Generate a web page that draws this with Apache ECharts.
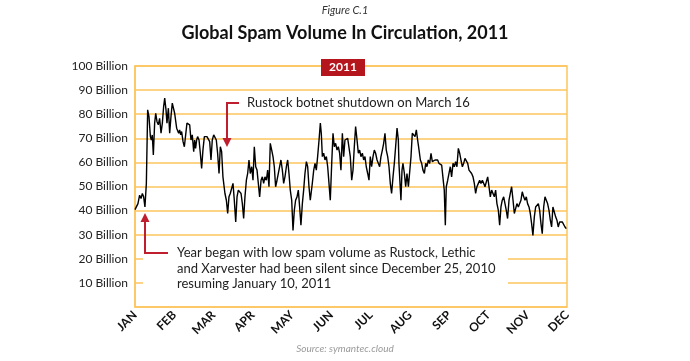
<!DOCTYPE html>
<html><head><meta charset="utf-8">
<script src="https://cdn.jsdelivr.net/npm/echarts@6/dist/echarts.min.js"></script>
<style>html,body{margin:0;padding:0;background:#fff}#c{width:690px;height:361px}</style>
</head><body><div id="c"></div>
<script>
const months = ['JAN','FEB','MAR','APR','MAY','JUN','JUL','AUG','SEP','OCT','NOV','DEC'];
const yMax = 100, yStep = 10;
// day of year (0..365) and spam volume (billions)
const days = [0.0,1.1,2.5,3.9,5.1,6.2,7.3,8.4,9.6,10.7,11.8,13.0,13.8,14.6,15.5,16.6,17.5,18.6,19.7,20.8,22.0,23.1,24.2,25.1,26.2,27.0,28.2,29.3,30.4,31.5,32.4,33.5,34.4,35.2,36.0,36.9,37.7,38.6,39.4,40.6,41.7,42.8,43.9,45.1,46.2,47.3,48.4,49.6,50.4,51.2,52.1,52.9,54.1,55.2,56.3,57.4,58.6,59.7,60.8,61.9,63.1,64.2,65.3,66.5,67.6,68.7,69.8,71.0,72.1,73.2,74.3,
76.0,77.2,78.3,79.4,80.5,81.7,82.8,83.9,85.1,86.2,87.3,88.4,89.6,90.7,91.8,92.9,94.1,95.2,96.3,97.4,98.6,99.7,100.8,102.0,103.1,104.2,105.3,106.5,107.6,108.7,109.8,111.0,112.1,113.2,114.3,115.5,116.6,117.7,118.8,120.0,121.1,122.2,123.3,124.5,125.6,126.7,127.9,129.0,130.1,131.2,132.4,133.5,134.6,135.7,136.9,138.0,139.1,140.2,141.4,142.5,143.6,144.8,145.9,147.0,148.1,
149.8,151.0,152.1,153.2,154.3,155.5,156.6,157.4,158.3,159.4,160.5,161.7,162.8,163.9,165.0,166.2,167.3,168.4,169.5,170.7,171.8,172.9,174.0,175.2,176.3,177.4,178.5,179.7,180.8,181.9,183.1,184.2,185.3,186.4,187.6,188.7,189.8,190.9,192.1,193.2,194.3,195.4,196.6,197.7,198.8,199.9,201.1,202.2,203.3,204.5,205.6,206.7,207.8,209.0,210.1,211.2,212.3,213.5,214.6,215.7,216.8,218.0,219.1,220.2,221.4,222.5,
223.0,224.2,224.7,225.6,226.4,227.6,228.7,229.8,231.0,232.1,233.2,234.3,235.4,236.6,237.7,238.8,240.0,241.1,242.2,243.3,244.5,245.6,246.7,247.8,249.0,250.1,251.2,252.3,253.5,254.6,255.7,256.8,258.0,259.1,260.2,261.3,262.2,263.0,264.2,265.3,266.4,267.5,268.7,269.8,270.9,272.0,273.2,274.3,275.4,276.6,277.7,278.8,279.9,281.1,282.2,283.3,284.4,285.6,286.7,287.8,288.9,290.1,291.2,292.3,293.5,294.6,295.7,296.8,
298.0,299.1,300.2,301.3,302.5,303.6,304.7,305.8,307.0,308.1,309.2,310.3,311.5,312.6,313.7,314.8,316.0,317.1,318.2,319.4,320.5,321.6,322.7,323.9,325.0,326.1,327.2,328.4,329.5,330.6,331.7,332.9,334.0,335.1,336.2,337.4,338.5,339.6,340.8,341.9,343.0,344.1,345.3,346.4,347.5,348.6,349.8,350.9,352.0,353.1,354.3,355.4,356.5,357.6,358.8,359.9,361.0,362.1,363.3,364.4];
const volume = [40.4,40.8,42.9,46.4,45.0,47.1,45.7,41.5,51.3,81.8,79.0,70.7,69.3,71.4,63.1,76.3,80.4,76.9,75.6,78.3,72.1,76.3,83.2,86.7,81.8,76.3,82.5,72.1,79.0,84.6,85.3,80.4,81.1,74.2,73.5,72.1,73.5,71.4,72.8,68.6,66.5,67.2,76.3,76.5,75.6,69.3,71.4,64.4,69.3,65.8,69.3,70.7,69.3,63.8,57.5,65.1,70.7,71.0,70.7,70.0,68.6,61.0,69.3,71.4,71.4,69.3,63.8,55.4,66.5,64.4,54.0,
47.1,44.3,38.8,45.7,47.1,47.1,51.3,44.3,35.3,45.7,48.5,48.5,47.1,42.9,36.7,45.7,52.6,55.4,61.0,55.4,58.2,52.6,66.5,58.2,56.8,51.3,45.7,52.6,54.0,51.3,54.0,52.6,56.8,49.9,67.9,65.1,62.4,58.2,49.9,52.6,55.4,58.2,61.0,56.8,51.3,54.0,58.2,61.0,55.4,48.5,44.3,31.8,40.1,44.3,45.7,48.5,41.5,33.9,42.9,48.5,55.4,60.3,58.2,49.9,44.3,
51.3,56.8,59.6,56.8,62.4,69.3,76.3,72.1,62.4,63.8,61.0,62.4,58.2,51.3,44.3,59.6,72.1,66.5,67.9,65.1,66.5,63.8,56.8,72.1,62.4,69.3,69.3,70.0,70.7,62.4,52.6,56.8,66.5,74.9,69.3,63.8,65.1,62.4,63.8,61.0,62.4,58.2,55.4,52.6,62.4,58.2,62.4,65.1,63.8,61.0,61.0,58.2,62.4,65.1,67.9,72.1,65.1,62.4,58.2,51.3,47.1,54.0,59.6,66.5,74.2,69.3,
59.6,60.3,44.3,56.8,59.6,55.4,49.9,55.4,49.9,49.9,62.4,72.1,72.8,70.7,73.5,69.3,65.1,61.0,59.6,56.8,55.4,59.6,58.2,61.0,59.6,63.8,60.3,59.6,61.0,60.3,61.0,59.6,60.3,58.9,58.2,48.5,33.9,49.9,52.6,55.4,58.2,54.0,59.6,58.2,60.3,58.2,65.8,63.8,61.0,58.2,59.6,61.7,61.0,59.6,56.8,57.5,55.4,54.0,51.3,47.1,49.9,51.3,52.6,51.3,52.6,51.3,49.9,49.2,
54.0,49.9,45.7,48.5,48.5,45.7,48.5,42.9,40.1,33.9,41.5,44.3,45.7,42.9,40.1,36.7,44.3,47.1,49.9,44.3,38.8,39.4,42.9,41.5,42.9,44.3,47.8,45.7,44.3,45.7,42.9,41.5,38.8,34.6,29.7,37.4,41.5,42.2,42.9,40.1,34.6,30.4,41.5,45.7,44.3,42.9,40.1,36.0,33.2,41.5,42.2,37.4,36.0,33.2,35.3,34.6,35.3,34.6,33.2,32.5];

const ORANGE = '#fdc55c', RED = '#be1e2d', FONT = 'Lato, "Open Sans", sans-serif';
const G = {left: 135, right: 123, top: 66, bottom: 54};
const chart = echarts.init(document.getElementById('c'), null, {renderer: 'canvas'});
chart.setOption({
  animation: false,
  backgroundColor: '#fff',
  grid: {left: G.left, right: G.right, top: G.top, bottom: G.bottom, show: true, borderColor: ORANGE, borderWidth: 1.5, containLabel: false},
  xAxis: [
    {type: 'category', data: months, boundaryGap: false,
     axisLine: {show: false}, axisTick: {show: false}, splitLine: {show: false},
     axisLabel: {rotate: 45, margin: 6, fontFamily: FONT, fontWeight: 'bold', fontSize: 12, color: '#111', interval: 0}},
    {type: 'value', min: 0, max: 365, show: false}
  ],
  yAxis: {type: 'value', min: 0, max: yMax, interval: yStep,
    axisLine: {show: true, lineStyle: {color: ORANGE, width: 1.5}}, axisTick: {show: false},
    splitLine: {lineStyle: {color: ORANGE, width: 1.5}},
    axisLabel: {margin: 7, fontFamily: FONT, fontSize: 12, color: '#222', formatter: v => v === 0 ? '' : v + ' Billion'}},
  series: [{type: 'line', xAxisIndex: 1, showSymbol: false, symbol: 'none',
    lineStyle: {color: '#000', width: 1.4}, z: 5,
    data: days.map((d, i) => [d, volume[i]])}],
  graphic: [
    {type: 'text', x: 345, y: 10, z: 10, style: {text: 'Figure C.1', font: 'italic 11px ' + FONT, fill: '#333', textAlign: 'center', textVerticalAlign: 'middle'}},
    {type: 'text', x: 345, y: 33, z: 10, style: {text: 'Global Spam Volume In Circulation, 2011', font: 'bold 18px ' + FONT, fill: '#111', textAlign: 'center', textVerticalAlign: 'middle'}},
    {type: 'text', x: 345, y: 349, z: 10, style: {text: 'Source: symantec.cloud', font: 'italic 10px ' + FONT, fill: '#9a9a9a', textAlign: 'center', textVerticalAlign: 'middle'}},
    {type: 'rect', z: 20, shape: {x: 321, y: 59, width: 44, height: 17}, style: {fill: '#b5161e'}},
    {type: 'text', x: 343, y: 67.5, z: 21, style: {text: '2011', font: 'bold 12px ' + FONT, fill: '#fff', textAlign: 'center', textVerticalAlign: 'middle'}},
    {type: 'rect', z: 20, shape: {x: 143, y: 243, width: 365, height: 48}, style: {fill: '#fff'}},
    {type: 'text', x: 177, y: 253, z: 21, style: {text: 'Year began with low spam volume as Rustock, Lethic', font: '13px ' + FONT, fill: '#222', textAlign: 'left', textVerticalAlign: 'middle'}},
    {type: 'text', x: 177, y: 268.5, z: 21, style: {text: 'and Xarvester had been silent since December 25, 2010', font: '13px ' + FONT, fill: '#222', textAlign: 'left', textVerticalAlign: 'middle'}},
    {type: 'text', x: 177, y: 284, z: 21, style: {text: 'resuming January 10, 2011', font: '13px ' + FONT, fill: '#222', textAlign: 'left', textVerticalAlign: 'middle'}},
    {type: 'polyline', z: 22, shape: {points: [[168, 253], [145, 253], [145, 221]]}, style: {stroke: RED, lineWidth: 2, fill: null}},
    {type: 'polygon', z: 22, shape: {points: [[140.5, 222], [149.5, 222], [145, 213]]}, style: {fill: RED}},
    {type: 'text', x: 247, y: 103, z: 21, style: {text: 'Rustock botnet shutdown on March 16', font: '13px ' + FONT, fill: '#222', textAlign: 'left', textVerticalAlign: 'middle'}},
    {type: 'polyline', z: 22, shape: {points: [[239, 103], [227, 103], [227, 139]]}, style: {stroke: RED, lineWidth: 2, fill: null}},
    {type: 'polygon', z: 22, shape: {points: [[222.5, 138], [231.5, 138], [227, 147]]}, style: {fill: RED}}
  ]
});
</script></body></html>
